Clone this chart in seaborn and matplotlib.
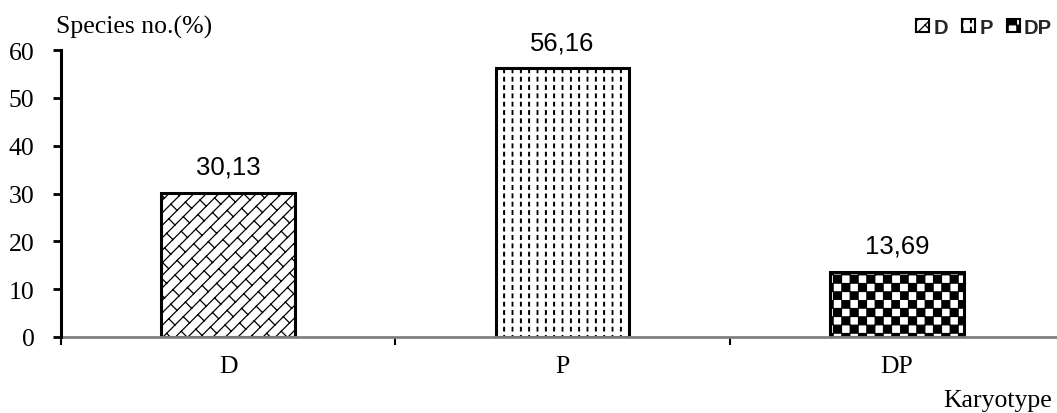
import warnings
import numpy as np
import pandas as pd
import matplotlib
matplotlib.use("Agg")
import matplotlib.pyplot as plt
from matplotlib import hatch as mhatch
from matplotlib.path import Path
from matplotlib.patches import Patch
import seaborn as sns

warnings.filterwarnings("ignore")

# ---------------- data ----------------
categories = ["D", "P", "DP"]
values = [30.13, 56.16, 13.69]
value_labels = ["30,13", "56,16", "13,69"]
y_ticks = [0, 10, 20, 30, 40, 50, 60]

# ---------------- custom hatch patterns ----------------
mhatch._validate_hatch_pattern = lambda h: None


class _CustomHatch(mhatch.HatchPatternBase):
    char = None

    def __init__(self, hatch, density):
        cnt = hatch.count(self.char) if self.char else 0
        if cnt:
            self.verts, self.codes = self.build()
        else:
            self.verts, self.codes = np.empty((0, 2)), np.empty(0, dtype=Path.code_type)
        self.num_vertices = len(self.verts)

    def set_vertices_and_codes(self, vertices, codes):
        vertices[:] = self.verts
        codes[:] = self.codes


class CheckerHatch(_CustomHatch):
    char = "c"

    def build(self):
        n = 12
        s = 1.0 / n
        e = 0.002
        vs, cs = [], []
        for i in range(n):
            for j in range(n):
                if (i + j) % 2 == 0:
                    x0, y0 = i * s + e, j * s + e
                    x1, y1 = (i + 1) * s - e, (j + 1) * s - e
                    vs += [(x0, y0), (x1, y0), (x1, y1), (x0, y1), (x0, y0)]
                    cs += [Path.MOVETO, Path.LINETO, Path.LINETO, Path.LINETO, Path.CLOSEPOLY]
        return np.array(vs, float), np.array(cs, dtype=Path.code_type)


class DashHatch(_CustomHatch):
    char = "v"

    def build(self):
        n = 12
        s = 1.0 / n
        w = 0.006
        h = 0.018
        vs, cs = [], []
        for i in range(n):
            for j in range(n):
                xc = i * s + s / 2
                yc = j * s + s / 2
                x0, x1 = xc - w / 2, xc + w / 2
                y0, y1 = yc - h, yc + h
                vs += [(x0, y0), (x1, y0), (x1, y1), (x0, y1), (x0, y0)]
                cs += [Path.MOVETO, Path.LINETO, Path.LINETO, Path.LINETO, Path.CLOSEPOLY]
        return np.array(vs, float), np.array(cs, dtype=Path.code_type)


class BrickHatch(_CustomHatch):
    char = "b"

    def build(self):
        n = 8
        p = 6
        vs, cs = [], []
        for k in range(-n - 1, n + 2):
            c = k / n
            vs += [(-0.2, -0.2 + c), (1.2, 1.2 + c)]
            cs += [Path.MOVETO, Path.LINETO]
        d = 1.0 / (2 * n)
        step = d + 0.5 / p
        for k in range(-2 * n, 2 * n + 2):
            c = k / n
            off = (-k * step) % (1.0 / p)
            for m in range(-p - 2, 2 * p + 2):
                x0 = m / p + off
                y0 = x0 + c
                if -0.3 < x0 < 1.3 and -0.3 < y0 < 1.3:
                    vs += [(x0, y0), (x0 + d, y0 - d)]
                    cs += [Path.MOVETO, Path.LINETO]
        return np.array(vs, float), np.array(cs, dtype=Path.code_type)


mhatch._hatch_types = list(mhatch._hatch_types) + [CheckerHatch, DashHatch, BrickHatch]

hatches = {"D": "b", "P": "v", "DP": "c"}

# ---------------- figure ----------------
sns.set_theme(style="white")
plt.rcParams["font.family"] = ["Liberation Serif", "DejaVu Sans"]
plt.rcParams["hatch.linewidth"] = 0.9
plt.rcParams["hatch.color"] = "black"

W, H = 1057, 414
fig = plt.figure(figsize=(W / 100, H / 100), dpi=100)
ax_left = 61 / W
ax_bottom = (H - 338) / H
ax_top = (H - 51) / H
ax_width = (1064 - 61) / W
ax = fig.add_axes([ax_left, ax_bottom, ax_width, ax_top - ax_bottom])

df = pd.DataFrame({"Karyotype": categories, "Species": values})
sns.barplot(data=df, x="Karyotype", y="Species", order=categories, ax=ax,
            width=0.4, color="white", edgecolor="black", linewidth=2.2,
            saturation=1)

for bar, cat in zip(ax.patches, categories):
    bar.set_hatch(hatches[cat])
    bar.set_facecolor("white")
    bar.set_edgecolor("black")

for i, (v, lab) in enumerate(zip(values, value_labels)):
    ax.annotate(lab, xy=(i, v), xytext=(0, 10), textcoords="offset points",
                ha="center", va="bottom", fontsize=18.5,
                family=["Liberation Sans", "DejaVu Sans"], color="black")

TS = 18.5
ax.set_xlim(-0.5, 2.5)
ax.set_ylim(0, 60)
ax.set_yticks(y_ticks)
ax.set_yticklabels([str(t) for t in y_ticks], fontsize=TS)
ax.set_xticks(range(len(categories)))
ax.set_xticklabels(categories, fontsize=TS)
ax.set_xticks([-0.5, 0.5, 1.5, 2.5], minor=True)
ax.tick_params(axis="x", which="major", length=0, pad=13, colors="black")
ax.tick_params(axis="x", which="minor", length=6, width=1.5, direction="out",
               color="black", bottom=True)
ax.tick_params(axis="y", which="major", length=6, width=2, direction="out",
               pad=13, left=True, colors="black")
ax.set_xlabel("")
ax.set_ylabel("")

for s in ["top", "right"]:
    ax.spines[s].set_visible(False)
ax.spines["left"].set_color("black")
ax.spines["left"].set_linewidth(2.2)
ax.spines["bottom"].set_color("#808080")
ax.spines["bottom"].set_linewidth(2)
ax.spines["left"].set_zorder(3)

fig.text(56 / W, 1 - 27 / H, "Species no.(%)", fontsize=TS, ha="left",
         va="center", color="black")
fig.text(1052 / W, 1 - 401 / H, "Karyotype", fontsize=TS, ha="right",
         va="center", color="black")

handles = [Patch(facecolor="white", edgecolor="black", hatch=hatches[c],
                 linewidth=1.5, label=c) for c in categories]
leg = fig.legend(handles=handles, loc="center right",
                 bbox_to_anchor=(1052 / W, 1 - 28 / H), ncol=3, frameon=False,
                 handlelength=0.65, handleheight=0.65, handletextpad=0.2,
                 columnspacing=0.7, borderaxespad=0, borderpad=0,
                 prop={"family": ["Liberation Sans", "DejaVu Sans"],
                       "weight": "bold", "size": 14.5})

fig.savefig("out.png", dpi=100)
